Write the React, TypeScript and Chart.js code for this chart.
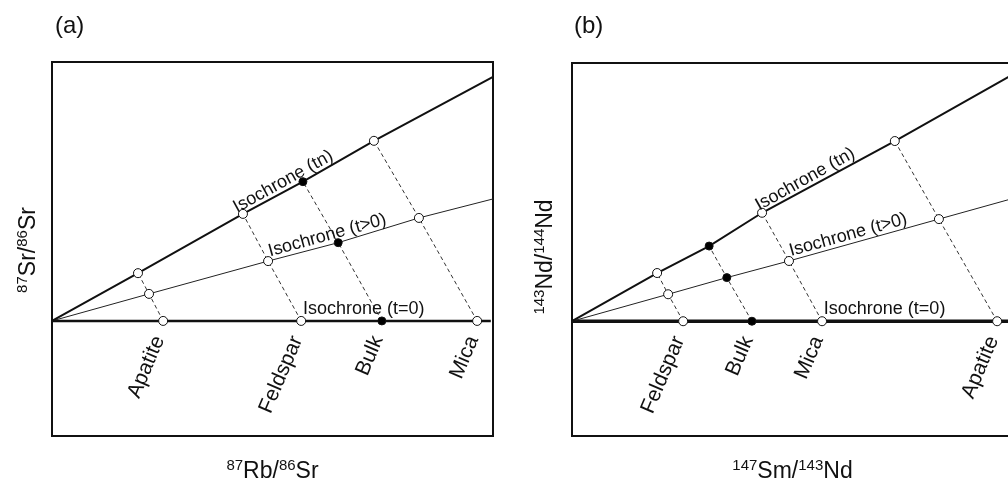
import React, { useEffect, useRef } from 'react';
import { Chart, registerables } from 'chart.js';

Chart.register(...registerables);

const FONT = '"Liberation Sans", Arial, Helvetica, sans-serif';

// ---------- Panel (a): Rb–Sr ----------
const mineralsA = ['Apatite', 'Feldspar', 'Bulk', 'Mica'];
const t0XA = [25.2, 56.5, 74.8, 96.4];
const tMidXA = [22.0, 49.0, 64.9, 83.2];
const tMidYA = [4.7, 10.4, 13.6, 17.9];
const tnXA = [19.5, 43.3, 56.9, 73.0];
const tnYA = [8.3, 18.6, 24.2, 31.3];
const tnEndA = [100, 42.4];
const tMidEndA = [100, 21.2];
const t0EndA = [99.5, 0];
const isoLabelXA = [42.5, 49.7, 56.9];

// ---------- Panel (b): Sm–Nd ----------
const mineralsB = ['Feldspar', 'Bulk', 'Mica', 'Apatite'];
const t0XB = [25.2, 40.8, 56.7, 96.4];
const tMidXB = [21.8, 35.1, 49.2, 83.2];
const tMidYB = [4.7, 7.6, 10.5, 17.8];
const tnXB = [19.3, 31.1, 43.1, 73.2];
const tnYB = [8.4, 13.1, 18.9, 31.4];
const tnEndB = [100, 43.0];
const tMidEndB = [100, 21.4];
const t0EndB = [100, 0];
const isoLabelXB = [43.0, 49.9, 57.1];

const isoLabels = ['Isochrone (tn)', 'Isochrone (t>0)', 'Isochrone (t=0)'];

type Part = { t: string; sup?: boolean };
const xTitleA: Part[] = [{ t: '87', sup: true }, { t: 'Rb/' }, { t: '86', sup: true }, { t: 'Sr' }];
const yTitleA: Part[] = [{ t: '87', sup: true }, { t: 'Sr/' }, { t: '86', sup: true }, { t: 'Sr' }];
const xTitleB: Part[] = [{ t: '147', sup: true }, { t: 'Sm/' }, { t: '143', sup: true }, { t: 'Nd' }];
const yTitleB: Part[] = [{ t: '143', sup: true }, { t: 'Nd/' }, { t: '144', sup: true }, { t: 'Nd' }];

interface PanelSpec {
  minerals: string[];
  t0X: number[];
  tMidX: number[];
  tMidY: number[];
  tnX: number[];
  tnY: number[];
  tnEnd: number[];
  tMidEnd: number[];
  t0End: number[];
  isoX: number[];
  xTitle: Part[];
  yTitle: Part[];
  letter: string;
  padding: { left: number; right: number; top: number; bottom: number };
  baseWidth: number;
  yTitleX: number;
  yTitleY: number;
  letterX: number;
}

function drawParts(ctx: CanvasRenderingContext2D, parts: Part[], cx: number, cy: number, rot: number) {
  const big = `23px ${FONT}`;
  const small = `15px ${FONT}`;
  let total = 0;
  const widths = parts.map((p) => {
    ctx.font = p.sup ? small : big;
    const w = ctx.measureText(p.t).width;
    total += w;
    return w;
  });
  ctx.save();
  ctx.translate(cx, cy);
  ctx.rotate(rot);
  ctx.textAlign = 'left';
  ctx.textBaseline = 'alphabetic';
  ctx.fillStyle = '#111';
  let x = -total / 2;
  parts.forEach((p, i) => {
    ctx.font = p.sup ? small : big;
    ctx.fillText(p.t, x, p.sup ? -8 : 0);
    x += widths[i];
  });
  ctx.restore();
}

function makePlugin(spec: PanelSpec) {
  return {
    id: 'isochronDecor' + spec.letter,
    beforeDatasetsDraw(chart: any) {
      const { ctx, chartArea } = chart;
      ctx.save();
      ctx.strokeStyle = '#111';
      ctx.lineWidth = 2;
      ctx.strokeRect(chartArea.left, chartArea.top, chartArea.right - chartArea.left, chartArea.bottom - chartArea.top);
      ctx.restore();
    },
    afterDatasetsDraw(chart: any) {
      const { ctx, chartArea } = chart;
      const xs = chart.scales.x;
      const ys = chart.scales.y;
      const ends = [spec.tnEnd, spec.tMidEnd, spec.t0End];
      const offs = [5, 4, 7];
      // isochrone labels along lines
      ends.forEach((end, k) => {
        const p0x = xs.getPixelForValue(0);
        const p0y = ys.getPixelForValue(0);
        const p1x = xs.getPixelForValue(end[0]);
        const p1y = ys.getPixelForValue(end[1]);
        const ang = Math.atan2(p1y - p0y, p1x - p0x);
        const dx = spec.isoX[k];
        const dy = (end[1] / end[0]) * dx;
        const ax = xs.getPixelForValue(dx) + Math.sin(ang) * offs[k];
        const ay = ys.getPixelForValue(dy) - Math.cos(ang) * offs[k];
        ctx.save();
        ctx.translate(ax, ay);
        ctx.rotate(ang);
        ctx.font = `18px ${FONT}`;
        ctx.fillStyle = '#111';
        ctx.textAlign = 'left';
        ctx.textBaseline = 'alphabetic';
        ctx.fillText(isoLabels[k], 0, 0);
        ctx.restore();
      });
      // mineral labels
      spec.minerals.forEach((m, i) => {
        const px = xs.getPixelForValue(spec.t0X[i]);
        const py = ys.getPixelForValue(0);
        ctx.save();
        ctx.translate(px - 4, py + 16);
        ctx.rotate((-67 * Math.PI) / 180);
        ctx.font = `21px ${FONT}`;
        ctx.fillStyle = '#111';
        ctx.textAlign = 'right';
        ctx.textBaseline = 'middle';
        ctx.fillText(m, 0, 0);
        ctx.restore();
      });
      // axis titles
      const cx = (chartArea.left + Math.min(chartArea.right, 1e9)) / 2;
      drawParts(ctx, spec.xTitle, cx, 478, 0);
      drawParts(ctx, spec.yTitle, spec.yTitleX, spec.yTitleY, -Math.PI / 2);
      // panel letter
      ctx.save();
      ctx.font = `24px ${FONT}`;
      ctx.fillStyle = '#111';
      ctx.textAlign = 'left';
      ctx.textBaseline = 'alphabetic';
      ctx.fillText(spec.letter, spec.letterX, 33);
      ctx.restore();
    },
  };
}

function buildConfig(spec: PanelSpec): any {
  const pts = (xsArr: number[], ysArr: number[]) => xsArr.map((x, i) => ({ x, y: ysArr[i] }));
  const zeros = spec.t0X.map(() => 0);
  const fillFor = spec.minerals.map((m) => (m === 'Bulk' ? '#000' : '#fff'));
  const marker = (data: any[]) => ({
    type: 'scatter',
    data,
    showLine: false,
    pointRadius: spec.minerals.map((m) => (m === 'Bulk' ? 4 : 4.5)),
    pointBackgroundColor: fillFor,
    pointBorderColor: '#111',
    pointBorderWidth: 1,
    order: 0,
    clip: false,
  });
  const datasets: any[] = [
    marker(pts(spec.tnX, spec.tnY)),
    marker(pts(spec.tMidX, spec.tMidY)),
    marker(pts(spec.t0X, zeros)),
    {
      type: 'line',
      data: [{ x: 0, y: 0 }, ...pts(spec.tnX, spec.tnY), { x: spec.tnEnd[0], y: spec.tnEnd[1] }],
      borderColor: '#111',
      borderWidth: 2,
      pointRadius: 0,
      order: 1,
      clip: false,
    },
    {
      type: 'line',
      data: [{ x: 0, y: 0 }, ...pts(spec.tMidX, spec.tMidY), { x: spec.tMidEnd[0], y: spec.tMidEnd[1] }],
      borderColor: '#222',
      borderWidth: 1,
      pointRadius: 0,
      order: 1,
      clip: false,
    },
    {
      type: 'line',
      data: [{ x: 0, y: 0 }, { x: spec.t0End[0], y: 0 }],
      borderColor: '#111',
      borderWidth: spec.baseWidth,
      pointRadius: 0,
      order: 1,
      clip: false,
    },
    ...spec.minerals.map((_, i) => ({
      type: 'line',
      data: [
        { x: spec.t0X[i], y: 0 },
        { x: spec.tMidX[i], y: spec.tMidY[i] },
        { x: spec.tnX[i], y: spec.tnY[i] },
      ],
      borderColor: '#333',
      borderWidth: 1,
      borderDash: [4, 3],
      pointRadius: 0,
      order: 2,
    })),
  ];
  return {
    type: 'scatter',
    data: { datasets },
    options: {
      responsive: false,
      animation: false,
      layout: { padding: spec.padding },
      plugins: { legend: { display: false }, tooltip: { enabled: false } },
      scales: {
        x: { type: 'linear', min: 0, max: 100, display: false },
        y: { type: 'linear', min: -20, max: 45, display: false },
      },
    },
    plugins: [makePlugin(spec)],
  };
}

const specA: PanelSpec = {
  minerals: mineralsA,
  t0X: t0XA,
  tMidX: tMidXA,
  tMidY: tMidYA,
  tnX: tnXA,
  tnY: tnYA,
  tnEnd: tnEndA,
  tMidEnd: tMidEndA,
  t0End: t0EndA,
  isoX: isoLabelXA,
  xTitle: xTitleA,
  yTitle: yTitleA,
  letter: '(a)',
  padding: { left: 52, right: 11, top: 62, bottom: 46 },
  baseWidth: 2.5,
  yTitleX: 35,
  yTitleY: 250,
  letterX: 55,
};

const specB: PanelSpec = {
  minerals: mineralsB,
  t0X: t0XB,
  tMidX: tMidXB,
  tMidY: tMidYB,
  tnX: tnXB,
  tnY: tnYB,
  tnEnd: tnEndB,
  tMidEnd: tMidEndB,
  t0End: t0EndB,
  isoX: isoLabelXB,
  xTitle: xTitleB,
  yTitle: yTitleB,
  letter: '(b)',
  padding: { left: 68, right: 11, top: 63, bottom: 46 },
  baseWidth: 3.5,
  yTitleX: 48,
  yTitleY: 257,
  letterX: 70,
};

function Panel({ spec, left, width }: { spec: PanelSpec; left: number; width: number }) {
  const ref = useRef<HTMLCanvasElement | null>(null);
  useEffect(() => {
    if (!ref.current) return;
    const chart = new Chart(ref.current, buildConfig(spec));
    return () => chart.destroy();
  }, [spec]);
  return (
    <canvas
      ref={ref}
      width={width}
      height={482}
      style={{ position: 'absolute', left, top: 0, width, height: 482 }}
    />
  );
}

export default function App() {
  return (
    <div
      style={{
        position: 'absolute',
        left: 0,
        top: 0,
        width: 1008,
        height: 482,
        overflow: 'hidden',
        background: '#fff',
      }}
    >
      <Panel spec={specA} left={0} width={504} />
      <Panel spec={specB} left={504} width={520} />
    </div>
  );
}
